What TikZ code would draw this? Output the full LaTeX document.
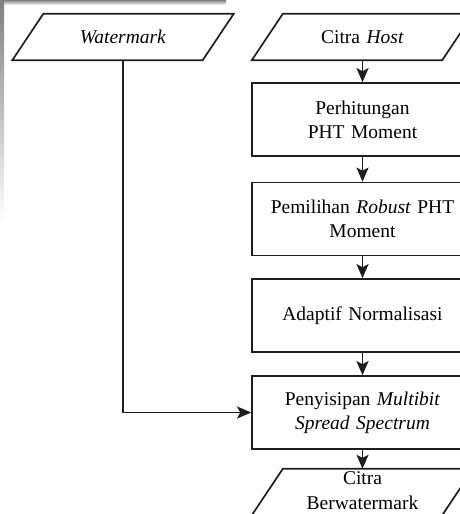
\documentclass[tikz,border=0pt]{standalone}
\usepackage{fontspec}
\setmainfont{Liberation Serif}
\usetikzlibrary{arrows.meta}
\definecolor{ink}{HTML}{1E1E1E}
\definecolor{shade}{HTML}{EEEEEE}
\tikzset{
  procbox/.style={draw=ink, line width=1.7pt, minimum width=221pt, minimum height=73pt,
    text width=215pt, align=center, inner sep=0pt, font=\fontsize{19.5}{24}\selectfont},
  iobox/.style={minimum width=221pt, minimum height=46pt, text width=200pt,
    align=center, inner sep=0pt, font=\fontsize{19.5}{25}\selectfont},
  para/.style={draw=ink, line width=1.7pt, line join=miter},
  flow/.style={draw=ink, line width=1.4pt, -{Stealth[length=14pt,width=12pt,inset=3pt]}}
}
\begin{document}
\begin{tikzpicture}[x=1pt,y=-1pt]
\clip (0,0) rectangle (460,514);
\fill[white] (0,0) rectangle (460,514);
\fill[shade] (0,0) rectangle (226,5);
\fill[shade] (0,0) rectangle (4,221);

\node[iobox] (wm) at (123,37) {\textit{Watermark}};
\node[iobox] (host) at (362.5,37) {Citra \textit{Host}};
\node[procbox] (b1) at (362.5,119.5) {Perhitungan\\PHT Moment};
\node[procbox] (b2) at (362.5,219) {Pemilihan \textit{Robust} PHT\\Moment};
\node[procbox] (b3) at (362.5,315.5) {Adaptif Normalisasi};
\node[procbox] (b4) at (362.5,412.5) {Penyisipan \textit{Multibit}\\\textit{Spread Spectrum}};
\node[iobox] (out) at (362.5,491) {Citra\\Berwatermark};

\foreach \n in {wm,host}{
  \draw[para] (\n.south west) -- ([xshift=-31pt]\n.south east) -- (\n.north east)
    -- ([xshift=31pt]\n.north west) -- cycle;
}
\draw[para] ([yshift=-1pt]out.south west) -- ([xshift=-31pt,yshift=-1pt]out.south east)
  -- ([yshift=-1pt]out.north east) -- ([xshift=31pt,yshift=-1pt]out.north west) -- cycle;

\draw[flow] (host) -- (b1);
\draw[flow] (b1) -- (b2);
\draw[flow] (b2) -- (b3);
\draw[flow] (b3) -- (b4);
\draw[flow] (b4) -- ([yshift=-1pt]out.north);
\draw[flow] (wm.south) |- (b4.west);
\end{tikzpicture}
\end{document}
